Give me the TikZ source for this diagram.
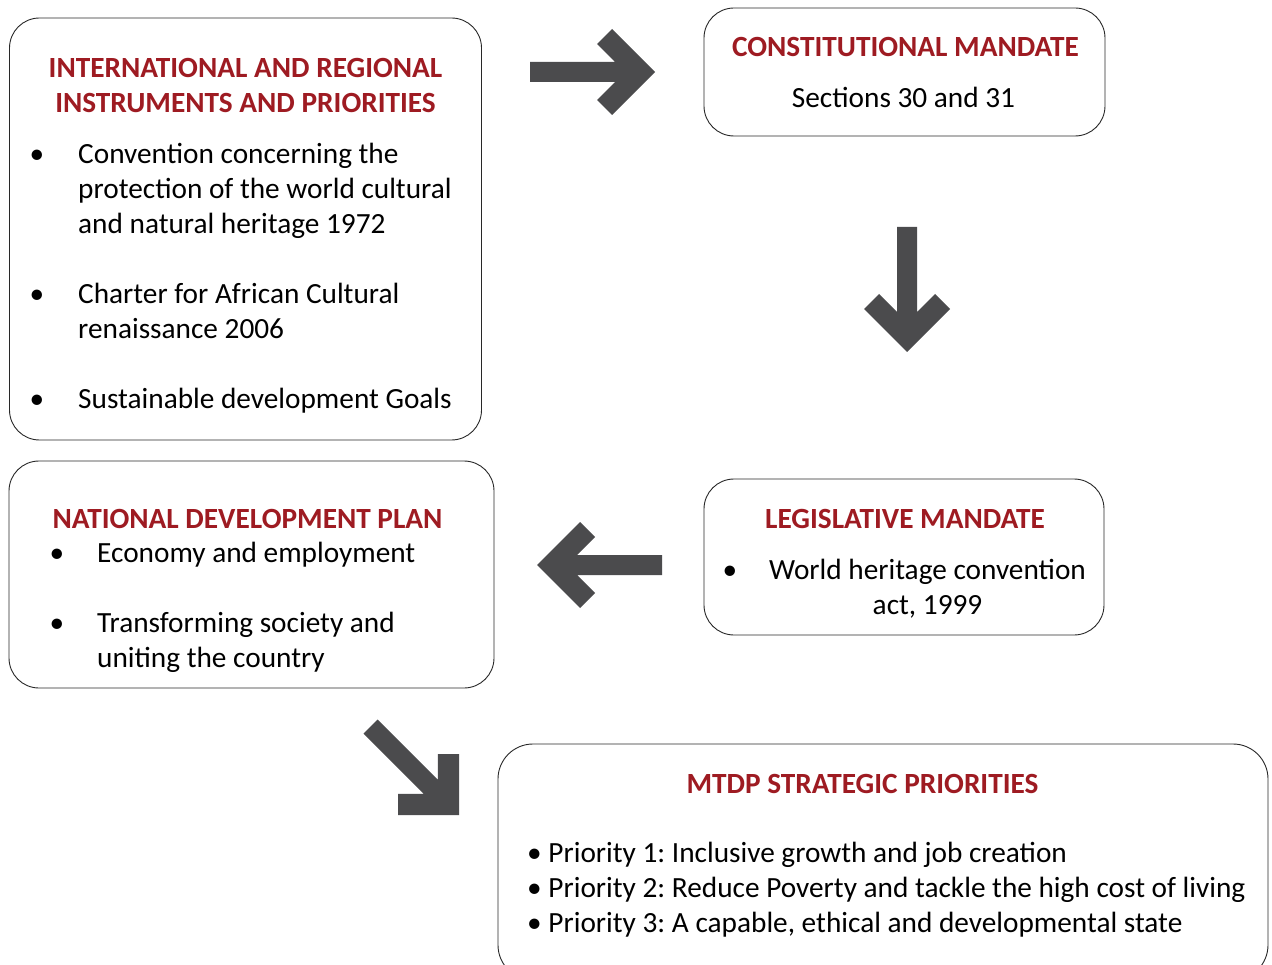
\documentclass[tikz,border=0pt]{standalone}
\usepackage{fontspec}
\setmainfont{Carlito}
\frenchspacing
\definecolor{titlered}{RGB}{158,27,34}
\definecolor{arrowgray}{RGB}{75,75,77}
\definecolor{boxline}{RGB}{40,40,40}
\newcommand{\fsz}{\fontsize{29.3}{35}\selectfont}
\tikzset{
  box/.style={draw=boxline, line width=0.9pt, rounded corners=30pt, fill=white, inner sep=0pt},
  ttl/.style={font=\fsz\bfseries, text=titlered, inner sep=0pt, anchor=base},
  body/.style={font=\fsz, text=black, inner sep=0pt, anchor=base west},
  bodyc/.style={font=\fsz, text=black, inner sep=0pt, anchor=base},
  bul/.style={font=\fsz, text=black, inner sep=0pt, anchor=base},
  blockarrow/.pic={\fill[arrowgray] (0,0) -- (-43,43) -- (-58,28) -- (-40,10) -- (-125,10) -- (-125,-10) -- (-40,-10) -- (-58,-28) -- (-43,-43) -- cycle;}
}
\begin{document}
\begin{tikzpicture}[x=1pt,y=-1pt]
\useasboundingbox (0,0) rectangle (1272,965);
\clip (0,0) rectangle (1272,965);
% boxes
\node[box, minimum width=472pt, minimum height=422pt] (intl) at (245.5,229) {};
\node[box, minimum width=401pt, minimum height=128pt] (const) at (904.5,72) {};
\node[box, minimum width=400pt, minimum height=156pt] (legis) at (904,557) {};
\node[box, minimum width=485pt, minimum height=227pt] (ndp) at (251.5,574.5) {};
\node[box, rounded corners=35pt, minimum width=770pt, minimum height=236pt] (mtdp) at (883,862) {};
\begin{scope}[shift={(0,1)}]
% box 1
\node[ttl] (t1a) at (245.5,77) {INTERNATIONAL AND REGIONAL};
\node[ttl] (t1b) at (245.5,112) {INSTRUMENTS AND PRIORITIES};
\node[bul] (b1a) at (37,163) {\textbullet};
\node[body] (l1a) at (78,163) {Convention concerning the};
\node[body] (l1b) at (78,198) {protection of the world cultural};
\node[body] (l1c) at (78,233) {and natural heritage 1972};
\node[bul] (b1b) at (37,303) {\textbullet};
\node[body] (l1d) at (78,303) {Charter for African Cultural};
\node[body] (l1e) at (78,338) {renaissance 2006};
\node[bul] (b1c) at (37,408) {\textbullet};
\node[body] (l1f) at (78,408) {Sustainable development Goals};
% box 2
\node[ttl] (t2) at (905.5,56) {CONSTITUTIONAL MANDATE};
\node[bodyc] (l2) at (903.5,107) {Sections 30 and 31};
% box 3
\node[ttl] (t3) at (905,527) {LEGISLATIVE MANDATE};
\node[bul] (b3) at (730,578) {\textbullet};
\node[bodyc] (l3a) at (927.5,578) {World heritage convention};
\node[bodyc] (l3b) at (927.5,613) {act, 1999};
% box 4
\node[ttl] (t4) at (247.5,527) {NATIONAL DEVELOPMENT PLAN};
\node[bul] (b4a) at (57,561) {\textbullet};
\node[body] (l4a) at (97,561) {Economy and employment};
\node[bul] (b4b) at (57,631) {\textbullet};
\node[body] (l4b) at (97,631) {Transforming society and};
\node[body] (l4c) at (97,666) {uniting the country};
% box 5
\node[ttl] (t5) at (862.5,792) {MTDP STRATEGIC PRIORITIES};
\node[body] (l5a) at (527,861) {\textbullet{} Priority 1: Inclusive growth and job creation};
\node[body] (l5b) at (527,896) {\textbullet{} Priority 2: Reduce Poverty and tackle the high cost of living};
\node[body] (l5c) at (527,931) {\textbullet{} Priority 3: A capable, ethical and developmental state};
\end{scope}
% arrows
\pic at (655,72) {blockarrow};
\pic[rotate=-90] at (907,352) {blockarrow};
\pic[rotate=180] at (537,565) {blockarrow};
\pic[rotate=-45] at (459,815) {blockarrow};
\end{tikzpicture}
\end{document}
